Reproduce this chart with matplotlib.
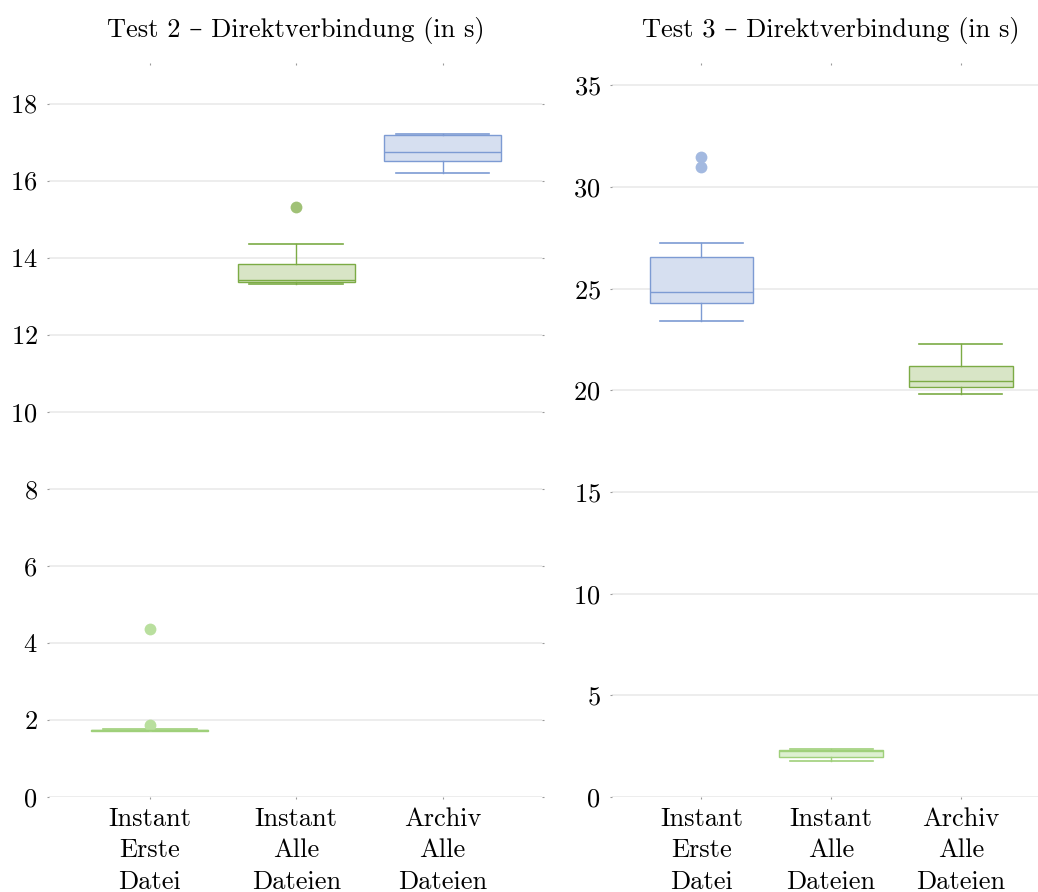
import matplotlib
matplotlib.use("Agg")
import matplotlib.pyplot as plt

plt.rcParams['font.family'] = ['cmr10', 'DejaVu Serif']
plt.rcParams['axes.formatter.use_mathtext'] = True

# categories and box statistics (seconds)
cats = ["Instant\nErste\nDatei", "Instant\nAlle\nDateien", "Archiv\nAlle\nDateien"]

t2_lo = [1.71, 13.31, 16.20]
t2_q1 = [1.72, 13.36, 16.52]
t2_med = [1.73, 13.42, 16.73]
t2_q3 = [1.75, 13.84, 17.19]
t2_hi = [1.77, 14.35, 17.22]
t2_fliers = [[1.88, 4.36], [15.32], []]

t3_lo = [23.41, 1.76, 19.84]
t3_q1 = [24.30, 1.98, 20.15]
t3_med = [24.83, 2.25, 20.45]
t3_q3 = [26.55, 2.31, 21.20]
t3_hi = [27.27, 2.35, 22.30]
t3_fliers = [[30.97, 31.46], [], []]

# (edge, fill, outlier)
blue = ('#7d9bd3', '#d6dff0', '#a3b9e0')
green = ('#7cab45', '#d8e5c6', '#a0c176')
lgreen = ('#9fd07a', '#ddf0d0', '#b9df9e')


def draw_panel(ax, title, lo, q1, med, q3, hi, fliers, colors, ymax, yticks):
    for i in range(len(cats)):
        edge, fill, fl = colors[i]
        st = [dict(whislo=lo[i], q1=q1[i], med=med[i], q3=q3[i], whishi=hi[i], fliers=fliers[i])]
        ax.bxp(st, positions=[i], widths=0.8, patch_artist=True,
               boxprops=dict(facecolor=fill, edgecolor=edge, linewidth=1.0),
               medianprops=dict(color=edge, linewidth=1.0),
               whiskerprops=dict(color=edge, linewidth=1.0),
               capprops=dict(color=edge, linewidth=1.2),
               capwidths=0.64,
               flierprops=dict(marker='o', markersize=8.5, markerfacecolor=fl,
                               markeredgecolor='none'),
               zorder=3)
    ax.set_xlim(-0.69, 2.68)
    ax.set_ylim(0, ymax)
    ax.set_yticks(yticks)
    ax.set_xticks(range(len(cats)))
    ax.set_xticklabels(cats, linespacing=1.42)
    ax.yaxis.grid(True, color='#e8e8e8', linewidth=1.1, zorder=0)
    ax.set_axisbelow(True)
    for s in ax.spines.values():
        s.set_visible(False)
    ax.tick_params(axis='both', which='both', length=1.2, width=0.8, color='#999999',
                   labelsize=19, top=True, right=True)
    ax.tick_params(axis='y', pad=7)
    ax.tick_params(axis='x', pad=6)
    ax.set_title(title, fontsize=19, pad=20)


fig = plt.figure(figsize=(10.38, 8.92), dpi=100)
ax1 = fig.add_axes([0.0472, 0.1065, 0.475, 0.8206])
ax2 = fig.add_axes([0.5896, 0.1065, 0.421, 0.8206])

draw_panel(ax1, "Test 2 – Direktverbindung (in s)", t2_lo, t2_q1, t2_med, t2_q3, t2_hi,
           t2_fliers, [lgreen, green, blue], 19, range(0, 19, 2))
draw_panel(ax2, "Test 3 – Direktverbindung (in s)", t3_lo, t3_q1, t3_med, t3_q3, t3_hi,
           t3_fliers, [blue, lgreen, green], 36, range(0, 36, 5))

fig.savefig('out.png', dpi=100)
